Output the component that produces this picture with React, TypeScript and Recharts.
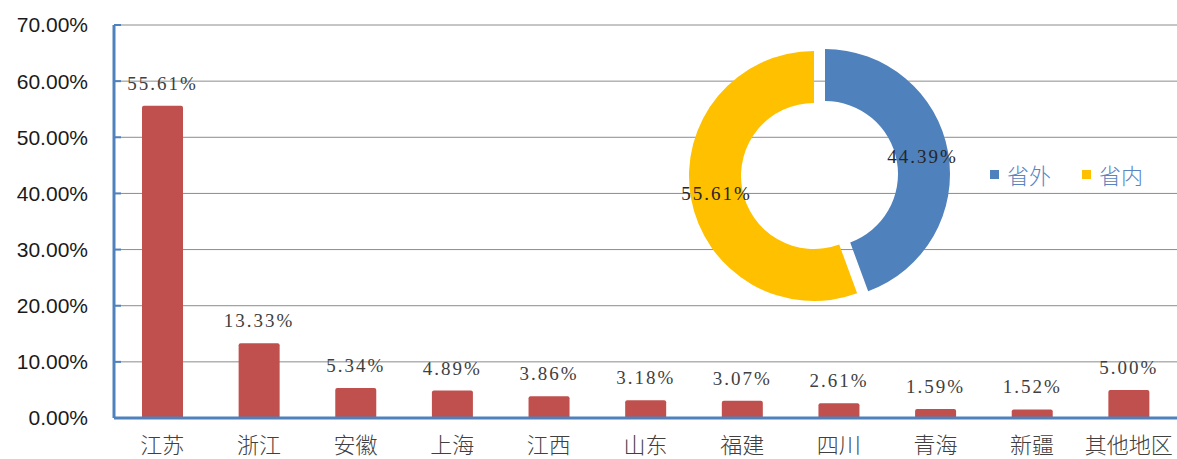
import { Bar, BarChart, CartesianGrid, Cell, LabelList, Legend, Pie, PieChart, XAxis, YAxis } from "recharts"

const regions = ["江苏", "浙江", "安徽", "上海", "江西", "山东", "福建", "四川", "青海", "新疆", "其他地区"]
const regionShares = [0.5561, 0.1333, 0.0534, 0.0489, 0.0386, 0.0318, 0.0307, 0.0261, 0.0159, 0.0152, 0.05]
const yTicks = [0, 0.1, 0.2, 0.3, 0.4, 0.5, 0.6, 0.7]

const donutNames = ["省外", "省内"]
const donutShares = [0.4439, 0.5561]
const donutColors = ["#4F81BD", "#FFC000"]

const barData = regions.map((name, i) => ({ name, value: regionShares[i] }))
const donutData = donutNames.map((name, i) => ({ name, value: donutShares[i] }))

const pct = (v: number) => `${(v * 100).toFixed(2)}%`
const RAD = Math.PI / 180
const serif = "'Liberation Serif', 'DejaVu Serif', serif"
const cjk = "'Noto Sans CJK SC', sans-serif"

function donutLabel(own: number) {
  return (p: any) => {
    if (p.index !== own) return null
    const r = (p.innerRadius + p.outerRadius) / 2
    const x = p.cx + r * Math.cos(-p.midAngle * RAD)
    const y = p.cy + r * Math.sin(-p.midAngle * RAD)
    return (
      <text x={x} y={y} textAnchor="middle" dominantBaseline="central" fontSize={19} letterSpacing={2} fontFamily={serif} fill="#262626">
        {pct(donutShares[own])}
      </text>
    )
  }
}

function DonutLegend() {
  return (
    <div style={{ display: "flex", gap: 31, fontFamily: cjk, fontSize: 22, color: "#5A84BF", fontWeight: 300 }}>
      {donutNames.map((n, i) => (
        <div key={n} style={{ display: "flex", alignItems: "center", gap: 8 }}>
          <span style={{ width: 9, height: 9, background: donutColors[i], display: "inline-block" }} />
          <span>{n}</span>
        </div>
      ))}
    </div>
  )
}

export default function App() {
  return (
    <div style={{ position: "relative", width: 1177, height: 459, background: "#fff" }}>
      <style>{`body{margin:0}`}</style>
      <BarChart width={1177} height={459} data={barData} margin={{ top: 25, right: 0, left: 0, bottom: 0 }}>
        <CartesianGrid vertical={false} stroke="#8C8C8C" />
        <XAxis
          dataKey="name"
          interval={0}
          height={41}
          axisLine={{ stroke: "#4F81BD", strokeWidth: 3 }}
          tickLine={false}
          tickSize={0}
          tickMargin={19}
          tick={{ fontSize: 22, fill: "#404040", fontFamily: cjk, fontWeight: 300 }}
        />
        <YAxis
          width={114}
          domain={[0, 0.7]}
          ticks={yTicks}
          tickFormatter={pct}
          axisLine={{ stroke: "#4F81BD", strokeWidth: 3 }}
          tickLine={{ stroke: "#4F81BD", strokeWidth: 2 }}
          tickSize={-7}
          tickMargin={33}
          tick={{ fontSize: 21, fill: "#1A1A1A", fontFamily: "'Liberation Sans', Arial, sans-serif" }}
        />
        <Bar dataKey="value" fill="#C0504D" barSize={41} radius={[2, 2, 0, 0]} isAnimationActive={false}>
          <LabelList
            dataKey="value"
            position="top"
            offset={16}
            formatter={(v: any) => pct(Number(v))}
            style={{ fontSize: 19, letterSpacing: 2, fill: "#404040", fontFamily: serif }}
          />
        </Bar>
      </BarChart>
      <div style={{ position: "absolute", left: 0, top: 0, pointerEvents: "none" }}>
        <PieChart width={1177} height={459}>
          <Pie
            data={donutData}
            dataKey="value"
            cx={820}
            cy={169}
            innerRadius={73}
            outerRadius={125}
            startAngle={90}
            endAngle={-270}
            stroke="none"
            labelLine={false}
            label={donutLabel(0)}
            isAnimationActive={false}
          >
            <Cell fill={donutColors[0]} />
            <Cell fill="none" />
          </Pie>
          <Pie
            data={donutData}
            dataKey="value"
            cx={809}
            cy={171}
            innerRadius={73}
            outerRadius={125}
            startAngle={90}
            endAngle={-270}
            stroke="none"
            labelLine={false}
            label={donutLabel(1)}
            isAnimationActive={false}
          >
            <Cell fill="none" />
            <Cell fill={donutColors[1]} />
          </Pie>
          <Legend content={() => <DonutLegend />} wrapperStyle={{ left: 990, top: 158, width: "auto" }} />
        </PieChart>
      </div>
    </div>
  )
}
